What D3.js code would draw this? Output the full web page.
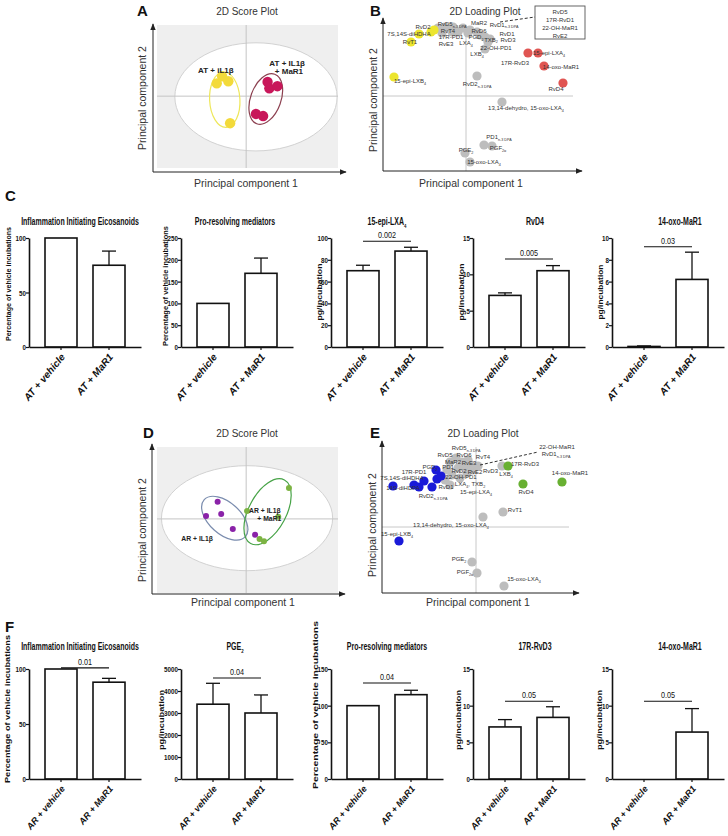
<!DOCTYPE html>
<html><head><meta charset="utf-8">
<script src="https://cdn.jsdelivr.net/npm/d3@7/dist/d3.min.js"></script>
<style>body{margin:0;background:#fff}svg{display:block}</style>
</head><body>
<svg id="fig" width="728" height="836"></svg>
<script>
// ================= DATA =================
// Panel A – score plot (PC1, PC2)
const scoreA_IL1b = [[-0.27,0.28],[-0.33,0.18],[-0.20,0.21],[-0.18,-0.38]];
const scoreA_IL1bMaR1 = [[0.24,0.20],[0.26,0.11],[0.35,0.14],[0.11,-0.25],[0.19,-0.28]];
// ellipses: [cx, cy, rx, ry, rotationDeg]
const scoreA_ellipses = [[0.11,-0.01,0.91,0.76,0],[-0.24,-0.05,0.17,0.39,-3],[0.22,-0.04,0.17,0.37,20]];
const scoreA_labels = [["AT + iL1β",-0.34,0.37],["AT + IL1β",0.46,0.47],["+ MaR1",0.48,0.35]];

// Panel B – loading plot
const loadB_gray = [[-0.28,0.68],[-0.21,0.69],[-0.13,0.69],[-0.08,0.64],[-0.03,0.68],[0.04,0.66],[0.02,0.63],[0.11,0.64],[0.14,0.61],[0.19,0.59],[0.24,0.57],[0.22,0.54],[0.19,0.47],[-0.14,0.64],[-0.24,0.63],
  [0.11,0.20],[0.36,-0.06],[0.18,-0.49],[0.26,-0.50],[-0.01,-0.57],[0.04,-0.66]];
const loadB_yellow = [[-0.35,0.64],[-0.32,0.66],[-0.47,0.62],[-0.55,0.54],[-0.72,0.19]];
const loadB_red = [[0.62,0.43],[0.72,0.43],[0.78,0.30],[0.97,0.13]];
const loadB_labels = [["RvD2",-0.43,0.69],["7S,14S-diHDHA",-0.57,0.62],["RvT1",-0.56,0.54],["RvD5{n-3 DPA}",-0.14,0.72],
  ["RvT4",-0.18,0.65],["17R-PD1",-0.15,0.59],["RvE3",-0.20,0.52],["MaR2",0.13,0.73],["RvD6",0.13,0.65],["PGD{2}",0.10,0.59],
  ["LXA{4}",0.00,0.53],["RvD1{n-3 DPA}",0.38,0.715],["RvD1",0.41,0.625],["TXB{2}",0.25,0.565],["RvD3",0.42,0.56],["22-OH-PD1",0.30,0.48],
  ["LXB{4}",0.11,0.42],["17R-RvD3",0.49,0.33],["15-epi-LXA{4}",0.83,0.43],["14-oxo-MaR1",0.95,0.29],["RvD4",0.90,0.07],
  ["15-epi-LXB{4}",-0.56,0.15],["RvD2{n-3 DPA}",0.11,0.12],["13,14-dehydro, 15-oxo-LXA{4}",0.60,-0.12],["PD1{n-3 DPA}",0.33,-0.41],
  ["PGF{2α}",0.32,-0.52],["PGE{2}",0.00,-0.54],["15-oxo-LXA{4}",0.18,-0.66]];
const loadB_boxLines = ["RvD5","17R-RvD1","22-OH-MaR1","RvE2"];

// Panel C – bar charts (AT)
const groupsC = ["AT + vehicle","AT + MaR1"];
const titlesC = ["Inflammation Initiating Eicosanoids","Pro-resolving mediators","15-epi-LXA{4}","RvD4","14-oxo-MaR1"];
const yLabelsC = ["Percentage of vehicle incubations","Percentage of vehicle incubations","pg/incubation","pg/incubation","pg/incubation"];
const yMaxC = [100,250,100,15,10];
const ticksC = [[0,50,100],[0,50,100,150,200,250],[0,20,40,60,80,100],[0,5,10,15],[0,2,4,6,8,10]];
const meansC = [[100,75],[100,169],[70,88],[7.1,10.5],[0.05,6.2]];
const errorsC = [[0,13],[0,35],[5,3.5],[0.35,0.7],[0.05,2.5]];
const sigTextC = [null,null,"0.002","0.005","0.03"];
const sigLevelC = [null,null,97,12.1,9.2];

// Panel D – score plot
const scoreD_IL1b = [[-0.32,0.24],[-0.45,0.04],[-0.28,0.07],[-0.15,-0.14],[0.10,-0.22]];
const scoreD_IL1bMaR1 = [[0.48,0.43],[0.01,0.11],[0.36,0.03],[0.15,-0.28],[0.20,-0.31]];
const scoreD_ellipses = [[0.01,0.01,0.96,0.73,0],[-0.24,0.01,0.31,0.22,42],[0.24,0.10,0.21,0.50,28]];
const scoreD_labels = [["AR + IL1β",0.21,0.12],["+ MaR1",0.26,0.00],["AR + IL1β",-0.55,-0.27]];

// Panel E – loading plot
const loadE_gray = [[-0.26,0.65],[-0.20,0.69],[-0.14,0.65],[-0.08,0.67],[-0.18,0.59],[-0.11,0.61],[-0.04,0.61],[-0.29,0.57],[-0.24,0.52],[-0.31,0.47],[-0.26,0.42],[-0.16,0.49],[-0.09,0.54],[-0.03,0.57],[0.02,0.61],
  [0.26,0.61],[0.07,0.10],[0.27,0.15],[-0.04,-0.35],[0.01,-0.46],[0.28,-0.59]];
const loadE_blue = [[-0.83,0.41],[-0.62,0.42],[-0.57,0.40],[-0.52,0.46],[-0.44,0.40],[-0.39,0.48],[-0.40,0.57],[-0.35,0.51],[-0.77,-0.14]];
const loadE_green = [[0.32,0.61],[0.47,0.43],[0.86,0.45]];
const loadE_labels = [["RvD5{n-3 DPA}",-0.10,0.79],["RvD5",-0.31,0.725],["RvD6",-0.12,0.72],["RvT4",0.07,0.70],["MaR2",-0.23,0.65],
  ["RvE3",-0.07,0.64],["PGD{2}",-0.46,0.60],["PD1",-0.28,0.60],["17R-PD1",-0.62,0.55],["RvD2",-0.17,0.56],["RvE2",-0.01,0.55],
  ["RvD3",0.145,0.56],["22-OH-PD1",-0.15,0.50],["7S,14S-diHDHA",-0.74,0.49],["LXA{4}, TXB{2}",-0.06,0.43],["14S-diHDPA",-0.73,0.39],
  ["RvD1",-0.30,0.40],["15-epi-LXA{4}",0.00,0.35],["RvD2{n-3 DPA}",-0.43,0.31],["RvT1",0.39,0.17],["13,14-dehydro, 15-oxo-LXA{4}",-0.25,0.02],
  ["15-epi-LXB{4}",-0.79,-0.07],["PGE{2}",-0.17,-0.32],["PGF{2α}",-0.11,-0.45],["15-oxo-LXA{4}",0.48,-0.52],["17R-RvD3",0.49,0.63],
  ["LXB{4}",0.30,0.53],["RvD4",0.50,0.35],["14-oxo-MaR1",0.94,0.54],["22-OH-MaR1",0.81,0.80],["RvD1{n-3 DPA}",0.80,0.73]];

// Panel F – bar charts (AR)
const groupsF = ["AR + vehicle","AR + MaR1"];
const titlesF = ["Inflammation Initiating Eicosanoids","PGE{2}","Pro-resolving mediators","17R-RvD3","14-oxo-MaR1"];
const yLabelsF = ["Percentage of vehicle incubations","pg/incubation","Percentage of vehicle incubations","pg/incubation","pg/incubation"];
const yMaxF = [100,5000,150,15,15];
const ticksF = [[0,50,100],[0,1000,2000,3000,4000,5000],[0,50,100,150],[0,5,10,15],[0,5,10,15]];
const meansF = [[100,88],[3400,3000],[100,115],[7.1,8.4],[0,6.4]];
const errorsF = [[0,3.5],[950,820],[0,6],[1.0,1.45],[0,3.2]];
const sigTextF = ["0.01","0.04","0.04","0.05","0.05"];
const sigLevelF = [101,4590,131,10.6,10.6];

// ================= LAYOUT / STYLE =================
const FONT = "'Liberation Sans', Arial, Helvetica, sans-serif";
const svg = d3.select("#fig").attr("font-family", FONT);
const defs = svg.append("defs");
defs.append("marker").attr("id","arrow").attr("viewBox","0 0 10 10").attr("refX",9).attr("refY",5)
  .attr("markerWidth",7).attr("markerHeight",7).attr("orient","auto")
  .append("path").attr("d","M0,1L10,5L0,9z").attr("fill","#222");

function rich(textSel, str, size){
  const parts = str.split(/(\{[^}]*\})/).filter(s=>s.length);
  let shift = 0;
  parts.forEach(p=>{
    if(p[0]==="{"){ shift = size*0.3; textSel.append("tspan").attr("font-size",size*0.62).attr("dy",shift).text(p.slice(1,-1)); }
    else { textSel.append("tspan").attr("dy", shift? -shift : null).text(p); shift = 0; }
  });
  return textSel;
}

function panelLetter(t,x,y){ svg.append("text").attr("x",x).attr("y",y).attr("font-size",15).attr("font-weight","bold").attr("fill","#111").text(t); }

function pcaFrame(L){
  const g = svg.append("g");
  g.append("line").attr("x1",L.axisX).attr("y1",L.axisY).attr("x2",L.axisX).attr("y2",L.yEnd).attr("stroke","#222").attr("stroke-width",1).attr("marker-end","url(#arrow)");
  g.append("line").attr("x1",L.axisX).attr("y1",L.axisY).attr("x2",L.xEnd).attr("y2",L.axisY).attr("stroke","#222").attr("stroke-width",1).attr("marker-end","url(#arrow)");
  g.append("text").attr("x",L.title[0]).attr("y",L.title[1]).attr("text-anchor","middle").attr("font-size",10).attr("fill","#333").text(L.titleText);
  g.append("text").attr("x",L.xlab[0]).attr("y",L.xlab[1]).attr("text-anchor","middle").attr("font-size",10.5).attr("fill","#333").text("Principal component 1");
  g.append("text").attr("transform",`translate(${L.ylab[0]},${L.ylab[1]}) rotate(-90)`).attr("text-anchor","middle").attr("font-size",10.5).attr("fill","#333").text("Principal component 2");
  return g;
}

function drawScore(L, groupA, groupB, ellipses, labels, colA, colB, ellCols, r, labSize){
  const x = d3.scaleLinear().domain(L.xDom).range(L.x);
  const y = d3.scaleLinear().domain(L.yDom).range(L.y);
  const g = svg.append("g");
  g.append("rect").attr("x",L.x[0]).attr("y",L.y[1]).attr("width",L.x[1]-L.x[0]).attr("height",L.y[0]-L.y[1]).attr("fill","#efefef");
  ellipses.forEach((e,i)=>{
    const cx = x(e[0]), cy = y(e[1]);
    const rx = x(e[2])-x(0), ry = y(0)-y(e[3]);
    g.append("ellipse").attr("transform",`translate(${cx},${cy}) rotate(${e[4]})`).attr("rx",rx).attr("ry",ry)
      .attr("fill", i===0? "#fff":"none").attr("stroke", ellCols[i]).attr("stroke-width", i===0?1:1.2);
    if(i===0){
      g.append("line").attr("x1",x(0)).attr("x2",x(0)).attr("y1",L.y[0]).attr("y2",L.y[1]).attr("stroke","#c4c4c4");
      g.append("line").attr("y1",y(0)).attr("y2",y(0)).attr("x1",L.x[0]).attr("x2",L.x[1]).attr("stroke","#c4c4c4");
    }
  });
  g.selectAll(".pa").data(groupA).join("circle").attr("cx",d=>x(d[0])).attr("cy",d=>y(d[1])).attr("r",r).attr("fill",colA);
  g.selectAll(".pb").data(groupB).join("circle").attr("cx",d=>x(d[0])).attr("cy",d=>y(d[1])).attr("r",r).attr("fill",colB);
  labels.forEach(l=>{
    g.append("text").attr("x",x(l[1])).attr("y",y(l[2])).attr("dy","0.35em").attr("text-anchor","middle")
      .attr("font-size",labSize).attr("font-weight","bold").attr("fill","#222").text(l[0]);
  });
  pcaFrame(L);
}

function drawLoading(L, gray, colored, labels){
  const x = d3.scaleLinear().domain(L.xDom).range(L.x);
  const y = d3.scaleLinear().domain(L.yDom).range(L.y);
  const g = svg.append("g");
  g.append("line").attr("x1",x(0)).attr("x2",x(0)).attr("y1",y(L.vTop)).attr("y2",L.y[0]).attr("stroke","#c8c8c8");
  g.append("line").attr("y1",y(0)).attr("y2",y(0)).attr("x1",L.x[0]).attr("x2",x(L.hRight)).attr("stroke","#c8c8c8");
  g.selectAll(".g").data(gray).join("circle").attr("cx",d=>x(d[0])).attr("cy",d=>y(d[1])).attr("r",4.6).attr("fill","#bdbdbd");
  colored.forEach(c=>{
    g.append("g").selectAll("circle").data(c.pts).join("circle").attr("cx",d=>x(d[0])).attr("cy",d=>y(d[1])).attr("r",4.6).attr("fill",c.color);
  });
  labels.forEach(l=>{
    rich(g.append("text").attr("x",x(l[1])).attr("y",y(l[2])).attr("dy","0.35em").attr("text-anchor","middle")
      .attr("font-size",6).attr("fill","#333"), l[0], 6);
  });
  pcaFrame(L);
  return {g,x,y};
}

// ---- Panel A ----
panelLetter("A",137,16);
drawScore({x:[157,338],y:[168,25],xDom:[-1,1.03],yDom:[-1.01,1],axisX:153,axisY:172,xEnd:346,yEnd:24,
  title:[247,15],titleText:"2D Score Plot",xlab:[246,187],ylab:[146,98]},
  scoreA_IL1b, scoreA_IL1bMaR1, scoreA_ellipses, scoreA_labels, "#f3da3a", "#c8175a", ["#d2d2d2","#eee75a","#8c4050"], 5.2, 8);

// ---- Panel B ----
panelLetter("B",370,16);
const B = drawLoading({x:[383,580],y:[171,20],xDom:[-0.83,1.14],yDom:[-0.75,0.76],vTop:0.71,hRight:1.07,
  axisX:383,axisY:171,xEnd:582,yEnd:18,title:[485,15],titleText:"2D Loading Plot",xlab:[471,187],ylab:[377,100]},
  loadB_gray, [{pts:loadB_yellow,color:"#ece52e"},{pts:loadB_red,color:"#e05552"}], loadB_labels);
{
  const {g,x,y} = B;
  g.append("rect").attr("x",x(0.69)).attr("y",y(0.90)).attr("width",x(1.19)-x(0.69)).attr("height",y(0.57)-y(0.90)).attr("fill","#fff").attr("stroke","#555").attr("stroke-width",0.9);
  loadB_boxLines.forEach((t,i)=>g.append("text").attr("x",x(0.94)).attr("y",y(0.84-i*0.08)).attr("dy","0.35em").attr("text-anchor","middle").attr("font-size",6).attr("fill","#333").text(t));
  g.append("line").attr("x1",x(0.34)).attr("y1",y(0.74)).attr("x2",x(0.69)).attr("y2",y(0.79)).attr("stroke","#333").attr("stroke-dasharray","3,2");
}

// ---- Bar charts ----
const colX0 = [29,181,331,473,612];
const titleXs = [80,235,387,535,680];
function drawBars(o){
  const g = svg.append("g");
  const x = d3.scaleBand().domain(o.groups).range([o.x0,o.x0+112]).paddingInner(1/3).paddingOuter(1/3);
  const y = d3.scaleLinear().domain([0,o.ymax]).range([o.yB,o.yT]);
  const bw = x.bandwidth();
  o.means.forEach((m,i)=>{
    if(m<=0) return;
    g.append("rect").attr("x",x(o.groups[i])).attr("y",y(m)).attr("width",bw).attr("height",y(0)-y(m))
      .attr("fill","#fff").attr("stroke","#111").attr("stroke-width",1.6);
  });
  o.means.forEach((m,i)=>{
    const e = o.errs[i]; if(!e) return;
    const cx = x(o.groups[i])+bw/2;
    g.append("line").attr("x1",cx).attr("x2",cx).attr("y1",y(m)).attr("y2",y(m+e)).attr("stroke","#111").attr("stroke-width",1.3);
    g.append("line").attr("x1",cx-7).attr("x2",cx+7).attr("y1",y(m+e)).attr("y2",y(m+e)).attr("stroke","#111").attr("stroke-width",1.3);
  });
  const ya = g.append("g").attr("transform",`translate(${o.x0},0)`).call(d3.axisLeft(y).tickValues(o.ticks).tickSize(3).tickSizeOuter(0).tickPadding(1).tickFormat(d3.format("d")));
  ya.select(".domain").attr("stroke","#111").attr("stroke-width",1.6);
  ya.selectAll(".tick line").attr("stroke","#111").attr("stroke-width",1.2);
  ya.selectAll(".tick text").attr("font-size",8).attr("font-weight","bold").attr("fill","#111").attr("font-family",FONT).attr("transform","scale(0.78,1)");
  const xa = g.append("g").attr("transform",`translate(0,${o.yB})`).call(d3.axisBottom(x).tickSize(3).tickSizeOuter(0));
  xa.select(".domain").attr("stroke","#111").attr("stroke-width",1.6);
  xa.selectAll(".tick line").attr("stroke","#111").attr("stroke-width",1.2);
  xa.selectAll(".tick text").attr("x",0).attr("y",0).attr("dy","0.35em").attr("text-anchor","end")
    .attr("transform","translate(2,8) rotate(-50)").attr("font-size",o.xlSize).attr("font-weight","bold").attr("font-style","italic").attr("fill","#111").attr("font-family",FONT);
  rich(g.append("text").attr("transform",`translate(${o.tx},${o.ty}) scale(0.7,1)`).attr("text-anchor","middle").attr("font-size",10).attr("font-weight","bold").attr("fill","#111"), o.title, 10);
  g.append("text").attr("transform",`translate(${o.x0-o.ylOff},${o.ylC}) rotate(-90)`).attr("text-anchor","middle").attr("dy","0.35em")
    .attr("font-size",7.5).attr("font-weight","bold").attr("fill","#111").attr("textLength",o.ylLen).attr("lengthAdjust","spacingAndGlyphs").text(o.ylabel);
  if(o.sig){
    const c1 = x(o.groups[0])+bw/2, c2 = x(o.groups[1])+bw/2;
    g.append("line").attr("x1",c1).attr("x2",c2).attr("y1",y(o.sigLevel)).attr("y2",y(o.sigLevel)).attr("stroke","#111").attr("stroke-width",1.1);
    g.append("text").attr("transform",`translate(${(c1+c2)/2},${y(o.sigLevel)-3}) scale(0.85,1)`).attr("text-anchor","middle").attr("font-size",8.5).attr("fill","#111").text(o.sig);
  }
}

panelLetter("C",5,201);
const ylOffC = [21,16,12,12,12], ylLenC = [114,120,57,57,55], ylCC = [284,286,292,292,292];
titlesC.forEach((t,i)=>drawBars({groups:groupsC,x0:colX0[i],yT:238,yB:347,ymax:yMaxC[i],ticks:ticksC[i],means:meansC[i],errs:errorsC[i],
  title:t,tx:titleXs[i],ty:225,ylabel:yLabelsC[i],ylOff:ylOffC[i],ylLen:ylLenC[i],ylC:ylCC[i],sig:sigTextC[i],sigLevel:sigLevelC[i],xlSize:10}));

// ---- Panel D ----
panelLetter("D",143,438);
drawScore({x:[157,338],y:[593,447],xDom:[-1,1.03],yDom:[-1.03,1],axisX:152,axisY:594,xEnd:345,yEnd:444,
  title:[247,437],titleText:"2D Score Plot",xlab:[243,606],ylab:[146,530]},
  scoreD_IL1b, scoreD_IL1bMaR1, scoreD_ellipses, scoreD_labels, "#8a22a8", "#7cb342", ["#d2d2d2","#7a8cae","#47a347"], 3, 6.8);

// ---- Panel E ----
panelLetter("E",370,438);
const E = drawLoading({x:[382,577],y:[593,443],xDom:[-0.94,1.01],yDom:[-0.66,0.84],vTop:0.80,hRight:0.93,
  axisX:382,axisY:593,xEnd:579,yEnd:441,title:[483,437],titleText:"2D Loading Plot",xlab:[478,606],ylab:[376,525]},
  loadE_gray, [{pts:loadE_blue,color:"#1a1ad8"},{pts:loadE_green,color:"#68b032"}], loadE_labels);
E.g.append("line").attr("x1",E.x(0.04)).attr("y1",E.y(0.62)).attr("x2",E.x(0.62)).attr("y2",E.y(0.75)).attr("stroke","#333").attr("stroke-dasharray","3,2");

// ---- Panel F ----
panelLetter("F",5,632);
const ylOffF = [22,20,16,15,13], ylLenF = [148,60,168,60,60], ylCF = [709,720,705,720,720];
titlesF.forEach((t,i)=>drawBars({groups:groupsF,x0:colX0[i],yT:669,yB:779,ymax:yMaxF[i],ticks:ticksF[i],means:meansF[i],errs:errorsF[i],
  title:t,tx:titleXs[i],ty:650,ylabel:yLabelsF[i],ylOff:ylOffF[i],ylLen:ylLenF[i],ylC:ylCF[i],sig:sigTextF[i],sigLevel:sigLevelF[i],xlSize:9}));
</script>
</body></html>
